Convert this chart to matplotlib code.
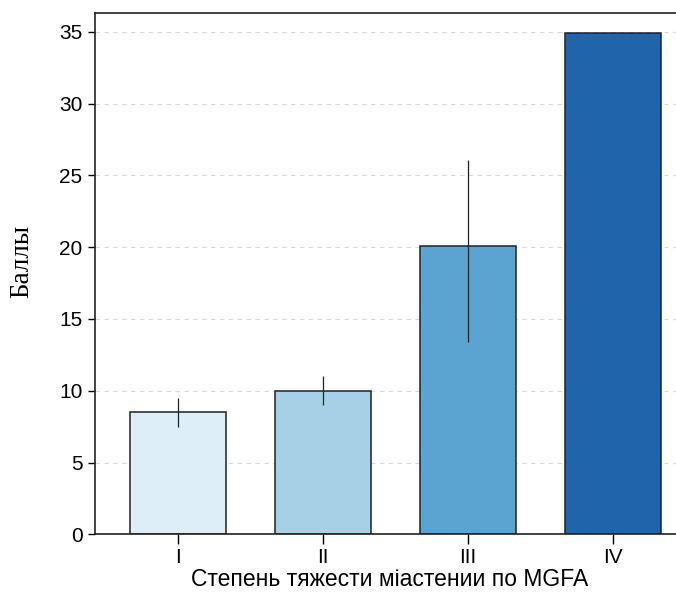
import numpy as np
import matplotlib
matplotlib.use("Agg")
import matplotlib.pyplot as plt

# MGFA severity classes
classes = ["I", "II", "III", "IV"]
scores = [8.5, 10.0, 20.1, 34.9]
err_low = [1.0, 1.0, 6.7, 0.0]
err_high = [1.0, 1.0, 6.0, 0.0]
colors = ["#ddeef8", "#a7d0e7", "#5ba3d0", "#2065ab"]
yticks = [0, 5, 10, 15, 20, 25, 30, 35]

plt.rcParams["font.family"] = ["Liberation Sans", "DejaVu Sans"]

fig = plt.figure(figsize=(6.76, 5.93), dpi=100)
ax = fig.add_axes([0.1405, 0.099, 0.8595, 0.8786])

x = np.arange(len(classes))
ax.bar(
    x,
    scores,
    width=0.66,
    color=colors,
    edgecolor="#222222",
    linewidth=1.1,
    zorder=2,
)
ax.errorbar(
    x,
    scores,
    yerr=[err_low, err_high],
    fmt="none",
    ecolor="#222222",
    elinewidth=0.9,
    capsize=0,
    zorder=3,
)

ax.set_xlim(-0.572, 3.434)
ax.set_ylim(0, 36.3)
ax.set_xticks(x)
ax.set_xticklabels(classes)
ax.set_yticks(yticks)

ax.grid(axis="y", linestyle=(0, (4, 4)), color="#d5d8dc", linewidth=0.8, zorder=0)
ax.set_axisbelow(True)

ax.spines["right"].set_visible(False)
for side in ["left", "top", "bottom"]:
    ax.spines[side].set_linewidth(1.2)
    ax.spines[side].set_color("#222222")

ax.tick_params(axis="y", labelsize=15, length=5, width=1.0, pad=4)
ax.tick_params(axis="x", labelsize=15, length=7, width=1.0, pad=3)

ax.set_xlabel("Степень тяжести міастении по MGFA", fontsize=16.5)
ax.xaxis.set_label_coords(0.507, -0.109, transform=ax.transAxes)
ax.xaxis.label.set_va("bottom")

fig.text(22 / 676, 1 - 261 / 593, "Баллы", fontsize=19.5, rotation=90,
         family=["Liberation Serif", "DejaVu Serif"], ha="center", va="center")

fig.savefig("out.png", dpi=100)
